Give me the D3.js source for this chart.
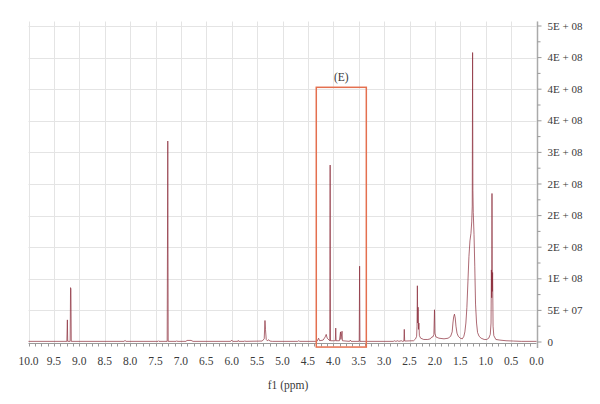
<!DOCTYPE html>
<html>
<head>
<meta charset="utf-8">
<script src="https://cdn.jsdelivr.net/npm/d3@7/dist/d3.min.js"></script>
<style>
  html, body { margin: 0; padding: 0; background: #fff; }
  svg { display: block; }
</style>
</head>
<body>
<svg id="chart" width="600" height="404"></svg>
<script>
// ---- Data (chemical shift in ppm, intensity in millions of counts) ----
const shiftPpm = [
  10.0, 9.30, 9.245, 9.235, 9.228, 9.180, 9.172, 9.165, 9.158,
  8.12, 8.10, 8.08, 7.45, 7.44, 7.43, 7.27, 7.258, 7.250,
  7.09, 7.08, 7.07, 6.90, 6.88, 6.80, 6.76,
  6.02, 6.00, 5.98, 5.88, 5.87, 5.86, 5.75, 5.74, 5.73,
  5.40, 5.36, 5.345, 5.335, 5.32, 5.30, 5.27, 5.25, 5.20,
  4.70, 4.68, 4.66, 4.32, 4.29, 4.27, 4.20, 4.16, 4.14, 4.12, 4.07,
  4.062, 4.055, 4.00, 3.96, 3.952, 3.945, 3.88, 3.858, 3.85, 3.828, 3.82,
  3.68, 3.665, 3.65, 3.49, 3.482, 3.475,
  2.82, 2.79, 2.77, 2.73, 2.71, 2.66, 2.64, 2.61, 2.603, 2.595,
  2.42, 2.38, 2.36, 2.352, 2.345, 2.338, 2.330, 2.322, 2.315, 2.305, 2.28,
  2.22, 2.14, 2.09, 2.06, 2.04, 2.02, 2.008, 2.000, 1.98, 1.92, 1.82,
  1.74, 1.69, 1.66, 1.645, 1.63, 1.615, 1.60, 1.585, 1.565, 1.54, 1.50, 1.46,
  1.43, 1.41, 1.39, 1.37, 1.35, 1.33, 1.31, 1.29, 1.275, 1.265, 1.258, 1.252,
  1.245, 1.23, 1.215, 1.20, 1.18, 1.16, 1.13, 1.09, 1.03, 0.98, 0.94, 0.91,
  0.895, 0.888, 0.882, 0.876, 0.870, 0.864, 0.855, 0.84, 0.80, 0.72, 0.60,
  0.45, 0.30, 0.00
];
const intensityM = [
  1, 1, 1, 35, 1, 1, 86, 84, 1,
  1, 2.5, 1, 1, 2, 1, 1, 318, 1,
  1, 2, 1, 1, 2.5, 2.5, 1,
  1, 3, 1, 1, 2.5, 1, 1, 2, 1,
  1.5, 5, 34, 20, 4, 2, 3.5, 1.5, 1,
  1, 2, 1, 1, 6, 2, 3, 8, 12, 6, 2,
  280, 2, 2, 2, 22, 2, 2, 16, 4, 17, 2,
  1, 3, 1, 1, 120, 1,
  1, 2, 1, 2, 1, 2, 1, 1.5, 20, 1.5,
  2, 5, 9, 25, 89, 30, 55, 20, 30, 10, 6,
  4, 4, 5, 8, 8, 12, 51, 14, 8, 6, 5,
  6, 9, 16, 30, 40, 44, 38, 25, 14, 9, 6, 5,
  9, 16, 30, 55, 95, 135, 160, 172, 190, 215, 458, 240,
  205, 170, 120, 60, 30, 15, 9, 6, 4, 4, 6, 12,
  30, 114, 70, 235, 80, 110, 25, 10, 4, 3, 2,
  1.5, 1, 1
];

// Axis ticks
const xTicks = [10.0, 9.5, 9.0, 8.5, 8.0, 7.5, 7.0, 6.5, 6.0, 5.5, 5.0, 4.5, 4.0, 3.5, 3.0, 2.5, 2.0, 1.5, 1.0, 0.5, 0.0];
const yTicksM = [0, 50, 100, 150, 200, 250, 300, 350, 400, 450, 500];
const yTickLabels = ["0", "5E + 07", "1E + 08", "2E + 08", "2E + 08", "2E + 08", "3E + 08", "4E + 08", "4E + 08", "4E + 08", "5E + 08"];

// Annotation box (E): ppm range and intensity range (millions)
const boxPpm = [4.335, 3.35];
const boxIntensityM = [-8, 403];
const boxLabel = "(E)";

// ---- Drawing ----
const FONT = "Liberation Serif, Times New Roman, serif";
const svg = d3.select("#chart");
const mLeft = 28.5, mRight = 536.5, mTop = 26, mBottom = 342, plotTop = 21.5;

const x = d3.scaleLinear().domain([10, 0]).range([mLeft, mRight]);
const y = d3.scaleLinear().domain([0, 500]).range([mBottom, mTop]);

// grid
const grid = svg.append("g");
grid.selectAll("line.v").data(xTicks).join("line")
  .attr("x1", d => Math.round(x(d)) + 0.5).attr("x2", d => Math.round(x(d)) + 0.5)
  .attr("y1", plotTop).attr("y2", mBottom + 1)
  .attr("stroke", "#e4e4e4").attr("stroke-width", 1);
grid.selectAll("line.h").data(yTicksM.slice(1)).join("line")
  .attr("x1", mLeft).attr("x2", mRight)
  .attr("y1", d => Math.round(y(d)) + 0.5).attr("y2", d => Math.round(y(d)) + 0.5)
  .attr("stroke", "#e4e4e4").attr("stroke-width", 1);

// bottom axis
const xMinor = d3.range(0, 10.0001, 0.125);
const xAxisG = svg.append("g").attr("transform", `translate(0,${mBottom + 1})`);
xAxisG.append("line").attr("x1", mLeft).attr("x2", mRight).attr("y1", 0.5).attr("y2", 0.5)
  .attr("stroke", "#999").attr("stroke-width", 1);
xAxisG.selectAll("line.minor").data(xMinor).join("line")
  .attr("x1", d => Math.round(x(d)) + 0.5).attr("x2", d => Math.round(x(d)) + 0.5)
  .attr("y1", 0.5).attr("y2", 3.5).attr("stroke", "#999");
xAxisG.selectAll("text").data(xTicks).join("text")
  .attr("x", d => x(d)).attr("y", 22)
  .attr("text-anchor", "middle").attr("font-size", 11.5)
  .attr("font-family", FONT).attr("fill", "#3a3a3a")
  .text(d => d3.format(".1f")(d));

// right axis
const yAxisG = svg.append("g").attr("transform", `translate(${mRight + 1},0)`);
yAxisG.append("line").attr("x1", 0).attr("x2", 0).attr("y1", plotTop).attr("y2", mBottom + 6)
  .attr("stroke", "#aaa").attr("stroke-width", 1.5);
const yMinor = d3.range(25, 500, 50);
yAxisG.selectAll("line.minor").data(yMinor).join("line")
  .attr("x1", 0).attr("x2", 3).attr("y1", d => y(d)).attr("y2", d => y(d))
  .attr("stroke", "#999");
yAxisG.selectAll("line.major").data(yTicksM).join("line")
  .attr("x1", 0).attr("x2", 4).attr("y1", d => y(d)).attr("y2", d => y(d))
  .attr("stroke", "#999");
yAxisG.selectAll("text").data(yTicksM).join("text")
  .attr("x", 10).attr("y", d => y(d) + 3.5)
  .attr("font-size", 11)
  .attr("font-family", FONT).attr("fill", "#3a3a3a")
  .text((d, i) => yTickLabels[i]);

// axis title
svg.append("text").attr("x", 288).attr("y", 389)
  .attr("text-anchor", "middle").attr("font-size", 11.5)
  .attr("font-family", FONT).attr("fill", "#3a3a3a").text("f1 (ppm)");

// spectrum
const pts = shiftPpm.map((p, i) => [p, intensityM[i]]);
const line = d3.line().x(d => x(d[0])).y(d => y(d[1]));
svg.append("path").datum(pts)
  .attr("d", line)
  .attr("fill", "none")
  .attr("stroke", "#8a2a38")
  .attr("stroke-width", 0.7)
  .attr("stroke-linejoin", "round");

// annotation box
svg.append("rect")
  .attr("x", x(boxPpm[0])).attr("y", y(boxIntensityM[1]))
  .attr("width", x(boxPpm[1]) - x(boxPpm[0]))
  .attr("height", y(boxIntensityM[0]) - y(boxIntensityM[1]))
  .attr("fill", "none").attr("stroke", "#e4704f").attr("stroke-width", 1.5);
svg.append("text")
  .attr("x", (x(boxPpm[0]) + x(boxPpm[1])) / 2)
  .attr("y", y(boxIntensityM[1]) - 6)
  .attr("text-anchor", "middle").attr("font-size", 11.5)
  .attr("font-family", FONT).attr("fill", "#3a3a3a")
  .text(boxLabel);
</script>
</body>
</html>
